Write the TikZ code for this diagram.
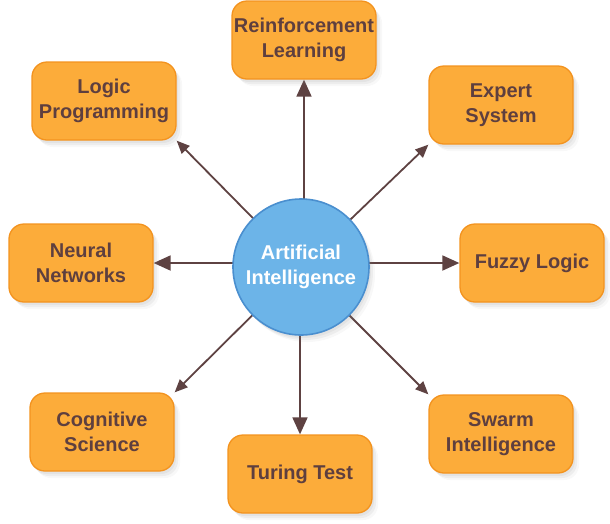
\documentclass[tikz,border=0pt]{standalone}
\usepackage{fontspec}
\setmainfont{Liberation Sans}
\usetikzlibrary{arrows.meta,shadows,backgrounds}
\definecolor{boxfill}{HTML}{FCAC3A}
\definecolor{boxline}{HTML}{F3931F}
\definecolor{txtcol}{HTML}{5E3F3F}
\definecolor{aifill}{HTML}{6CB4E8}
\definecolor{ailine}{HTML}{4A8FCF}
\definecolor{arrcol}{HTML}{5E4242}
\begin{document}
\begin{tikzpicture}[x=1pt,y=-1pt,
  softshadow/.style={
    drop shadow={opacity=0.09,shadow xshift=2pt,shadow yshift=-3pt},
    drop shadow={opacity=0.09,shadow xshift=4pt,shadow yshift=-5pt},
    drop shadow={opacity=0.06,shadow xshift=6pt,shadow yshift=-7pt}},
  box/.style={rectangle,rounded corners=15pt,minimum width=144pt,minimum height=78pt,
    fill=boxfill,draw=boxline,line width=1.3pt,text=txtcol,
    font=\fontsize{20}{25}\selectfont\bfseries,align=center,inner sep=0pt,softshadow},
  hub/.style={circle,minimum size=136pt,fill=aifill,draw=ailine,line width=1.6pt,
    text=white,font=\fontsize{20}{25}\selectfont\bfseries,align=center,inner sep=0pt,softshadow},
  straightarr/.style={draw=arrcol,line width=1.8pt,-{Triangle[length=17pt,width=15pt]}},
  diagarr/.style={draw=arrcol,line width=1.8pt,-{Triangle[length=13pt,width=11pt]},shorten >=0pt}
]
\useasboundingbox (0,0) rectangle (610,523);

\node[box] (rl) at (304,40) {Reinforcement\\Learning};
\node[box] (lp) at (104,101) {Logic\\Programming};
\node[box] (es) at (501,105) {Expert\\System};
\node[box] (nn) at (81,263) {Neural\\Networks};
\node[box] (fl) at (532,263) {Fuzzy Logic};
\node[box] (cs) at (102,432) {Cognitive\\Science};
\node[box] (tt) at (300,474) {Turing Test};
\node[box] (si) at (501,434) {Swarm\\Intelligence};

\node[hub] (ai) at (301,267) {Artificial\\Intelligence};

\begin{scope}[on background layer]
\draw[straightarr] (rl.south |- ai.center) -- (rl.south);
\draw[straightarr] (tt.north |- ai.center) -- (tt.north);
\draw[straightarr] (ai.center |- nn.east) -- (nn.east);
\draw[straightarr] (ai.center |- fl.west) -- (fl.west);
\draw[diagarr] (ai.center) -- (lp.south east);
\draw[diagarr] (ai.center) -- (es.south west);
\draw[diagarr] (ai.center) -- (cs.north east);
\draw[diagarr] (ai.center) -- (si.north west);
\end{scope}
\end{tikzpicture}
\end{document}
